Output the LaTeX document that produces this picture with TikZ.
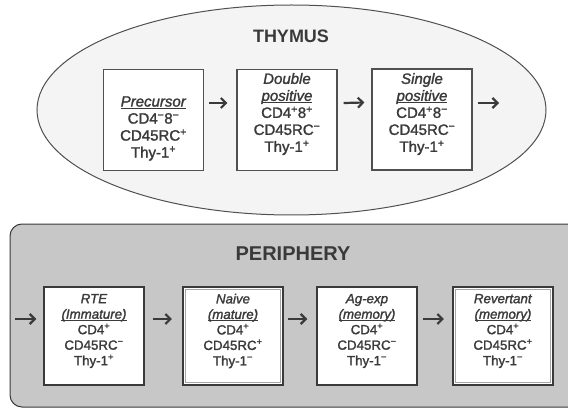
\documentclass[tikz,border=0pt]{standalone}
\usepackage{fontspec}
\setmainfont{Liberation Sans}
\newfontfamily\boxfont{Liberation Sans}[FakeBold=1.6]
\usetikzlibrary{arrows.meta}
\definecolor{ink}{HTML}{3A3A3A}
\definecolor{edge}{HTML}{505050}
\tikzset{
  thybox/.style={draw=edge, line width=1.2pt, fill=white, minimum width=100pt, minimum height=101pt, inner sep=0pt},
  perbox/.style={draw=ink, line width=1.4pt, fill=white, minimum width=100pt, minimum height=98pt, inner sep=0pt},
  dblbox/.style={draw=ink, line width=2.2pt, fill=white, minimum width=100pt, minimum height=98pt, inner sep=0pt},
  innerline/.style={draw=gray!70, line width=0.8pt},
  thytext/.style={align=center, text=ink, inner sep=0pt, font=\boxfont\fontsize{15}{17}\selectfont},
  pertext/.style={align=center, text=ink, inner sep=0pt, font=\boxfont\fontsize{13.3}{15.5}\selectfont},
  title/.style={text=ink, inner sep=0pt, font=\bfseries\fontsize{18}{20}\selectfont},
  arr/.style={draw=ink, line width=2.2pt, -{Straight Barb[length=5pt,width=10pt]}}
}
\newcommand{\spx}[1]{\textsuperscript{#1}}
\newcommand{\ulx}[1]{\setbox0\hbox{#1}\rlap{\rule[-2.3pt]{\wd0}{0.8pt}}\box0}
\begin{document}
\begin{tikzpicture}[x=1pt,y=-1pt]
\useasboundingbox (0,0) rectangle (568,409);
\fill[white] (0,0) rectangle (568,409);
% thymus ellipse
\draw[edge, line width=1pt, fill=gray!9] (291.5,110) ellipse [x radius=254.5, y radius=105];
\node[title] (thy) at (291,36) {THYMUS};
% periphery panel
\begin{scope}
\clip (0,0) rectangle (568,409);
\draw[ink, line width=1pt, fill=gray!44, rounded corners=12pt] (10,224) rectangle (620,407);
\end{scope}
\node[title, font=\bfseries\fontsize{20}{22}\selectfont] (per) at (293,254) {PERIPHERY};
% thymus boxes
\node[thybox] (pre) at (153.5,120) {};
\node[thybox] (dbl) at (287,120) {};
\node[thybox] (sgl) at (422,119.5) {};
\node[thytext] (pret) at (153.5,128.5) {\ulx{\textit{Precursor}}\\CD4\spx{−}8\spx{−}\\CD45RC\spx{+}\\Thy-1\spx{+}};
\node[thytext] (dblt) at (287,114) {\textit{Double}\\\ulx{\textit{positive}}\\CD4\spx{+}8\spx{+}\\CD45RC\spx{−}\\Thy-1\spx{+}};
\node[thytext] (sglt) at (422,114) {\textit{Single}\\\ulx{\textit{positive}}\\CD4\spx{+}8\spx{−}\\CD45RC\spx{−}\\Thy-1\spx{+}};
\coordinate (thyout) at (499,103);
\draw[arr] ([shift={(5,-17)}]pre.east) -- ([shift={(-9,-17)}]dbl.west);
\draw[arr] ([shift={(6,-17)}]dbl.east) -- ([shift={(-7,-17)}]sgl.west);
\draw[arr] ([shift={(5,-16.5)}]sgl.east) -- (thyout);
% periphery boxes
\node[perbox] (rte) at (94,336) {};
\node[dblbox] (nai) at (233,336) {};
\draw[innerline] ([shift={(3.5,-3.5)}]nai.south west) rectangle ([shift={(-3.5,3.5)}]nai.north east);
\node[perbox] (agx) at (367,336) {};
\node[dblbox] (rev) at (503,336) {};
\draw[innerline] ([shift={(3.5,-3.5)}]rev.south west) rectangle ([shift={(-3.5,3.5)}]rev.north east);
\node[pertext] (rtet) at (94,331) {\textit{RTE}\\\ulx{\textit{(Immature)}}\\CD4\spx{+}\\CD45RC\spx{−}\\Thy-1\spx{+}};
\node[pertext] (NAIt) at (233,331) {\textit{Naive}\\\ulx{\textit{(mature)}}\\CD4\spx{+}\\CD45RC\spx{+}\\Thy-1\spx{−}};
\node[pertext] (agxt) at (367,331) {\textit{Ag-exp}\\\ulx{\textit{(memory)}}\\CD4\spx{+}\\CD45RC\spx{−}\\Thy-1\spx{−}};
\node[pertext] (revt) at (503,331) {\textit{Revertant}\\\ulx{\textit{(memory)}}\\CD4\spx{+}\\CD45RC\spx{+}\\Thy-1\spx{−}};
\coordinate (perin) at (15,319);
\draw[arr] (perin) -- ([shift={(-7,-17)}]rte.west);
\draw[arr] ([shift={(8,-17)}]rte.east) -- ([shift={(-10,-17)}]nai.west);
\draw[arr] ([shift={(4,-17)}]nai.east) -- ([shift={(-9,-17)}]agx.west);
\draw[arr] ([shift={(5,-17)}]agx.east) -- ([shift={(-8,-17)}]rev.west);
\end{tikzpicture}
\end{document}
